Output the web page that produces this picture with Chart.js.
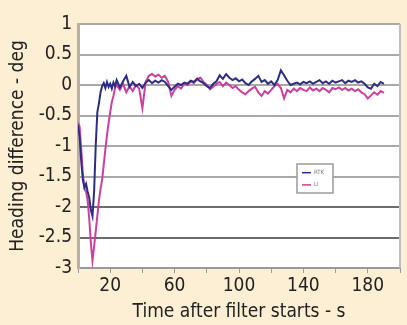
<!DOCTYPE html>
<html>
<head>
<meta charset="utf-8">
<script src="https://cdn.jsdelivr.net/npm/chart.js@4.4.1/dist/chart.umd.min.js"></script>
<style>
  html, body { margin: 0; padding: 0; background: #fdefd3; }
  #wrap { width: 407px; height: 325px; position: relative; }
</style>
</head>
<body>
<div id="wrap"><canvas id="c" width="407" height="325"></canvas></div>
<script>
// Time after filter starts (s)
const times = [0,1,2,3,4,5,6,7,8,9,10,11,12,13,14,15,16,17,18,19,20,21,22,23,24,
  26,28,30,32,34,36,38,40,42,44,46,48,50,52,54,56,58,60,62,64,66,68,70,72,74,76,78,80,
  82,84,86,88,90,92,94,96,98,100,102,104,106,108,110,112,114,116,118,120,122,124,126,128,130,
  132,134,136,138,140,142,144,146,148,150,152,154,156,158,160,162,164,166,168,170,172,174,176,178,180,
  182,184,186,188,190];

// Heading difference (deg), RTK series (dark blue)
const rtk = [-0.65,-0.85,-1.25,-1.55,-1.68,-1.62,-1.75,-1.85,-2.05,-2.15,-1.75,-1.0,-0.45,-0.3,-0.12,-0.02,0.03,-0.05,0.05,-0.03,0.02,-0.06,0.04,-0.02,0.08,
  -0.04,0.06,0.15,-0.03,0.05,-0.02,0.02,-0.05,0.04,0.08,0.03,0.07,0.04,0.08,0.05,-0.02,-0.08,-0.03,0.02,0.0,0.04,0.02,0.07,0.05,0.1,0.06,0.03,-0.02,
  -0.05,0.02,0.06,0.16,0.1,0.18,0.12,0.08,0.11,0.06,0.09,0.03,0.0,0.06,0.1,0.15,0.05,0.08,0.02,0.06,0.0,0.08,0.24,0.16,0.07,
  0.0,0.02,0.04,0.01,0.05,0.03,0.06,0.02,0.05,0.08,0.03,0.06,0.02,0.07,0.04,0.06,0.08,0.03,0.07,0.05,0.08,0.04,0.06,0.02,-0.04,
  -0.06,0.02,-0.02,0.05,0.02];

// Heading difference (deg), LI series (magenta)
const li = [-0.62,-0.68,-1.05,-1.45,-1.7,-1.75,-1.9,-2.2,-2.6,-2.88,-2.65,-2.4,-2.15,-1.9,-1.7,-1.55,-1.3,-1.05,-0.82,-0.62,-0.45,-0.28,-0.18,-0.05,0.0,
  -0.08,0.02,-0.12,-0.02,-0.1,0.0,-0.06,-0.38,0.05,0.15,0.18,0.14,0.17,0.12,0.15,0.05,-0.18,-0.08,-0.02,-0.06,0.02,0.0,0.06,0.03,0.1,0.12,0.05,0.0,
  -0.07,-0.03,0.02,0.05,-0.02,0.04,0.0,-0.05,-0.02,-0.08,-0.12,-0.15,-0.1,-0.06,-0.03,-0.12,-0.18,-0.1,-0.14,-0.08,-0.02,0.02,-0.05,-0.22,-0.08,
  -0.12,-0.06,-0.1,-0.05,-0.08,-0.1,-0.04,-0.09,-0.06,-0.1,-0.05,-0.08,-0.12,-0.05,-0.07,-0.04,-0.08,-0.05,-0.09,-0.06,-0.1,-0.07,-0.12,-0.15,-0.22,
  -0.17,-0.12,-0.16,-0.1,-0.13];

const seriesNames = ['RTK', 'LI'];
const xLabelTicks = [20, 60, 100, 140, 180];

const FONT = "'DejaVu Sans Condensed', 'Liberation Sans', sans-serif";

const toXY = arr => arr.map((v, i) => ({ x: times[i], y: v }));

const insideLegend = {
  id: 'insideLegend',
  afterDatasetsDraw(chart) {
    const ctx = chart.ctx;
    const xs = chart.scales.x, ys = chart.scales.y;
    const x0 = Math.round(xs.getPixelForValue(136)), x1 = Math.round(xs.getPixelForValue(158.4));
    const y0 = Math.round(ys.getPixelForValue(-1.3)), y1 = Math.round(ys.getPixelForValue(-1.77));
    ctx.save();
    ctx.fillStyle = '#ffffff';
    ctx.fillRect(x0, y0, x1 - x0, y1 - y0);
    ctx.strokeStyle = '#9a9a9a';
    ctx.lineWidth = 1.5;
    ctx.strokeRect(x0, y0, x1 - x0, y1 - y0);
    chart.data.datasets.forEach((ds, i) => {
      const yy = y0 + (y1 - y0) * (i === 0 ? 0.3 : 0.72);
      ctx.strokeStyle = ds.borderColor;
      ctx.lineWidth = 1.5;
      ctx.beginPath();
      ctx.moveTo(x0 + 5, yy);
      ctx.lineTo(x0 + 14, yy);
      ctx.stroke();
      ctx.fillStyle = '#777';
      ctx.font = "6px " + FONT;
      ctx.textBaseline = 'middle';
      ctx.fillText(ds.label, x0 + 17, yy);
    });
    ctx.restore();
  }
};

const bgPlugin = {
  id: 'bgPlugin',
  beforeDraw(chart) {
    const { ctx, chartArea: a } = chart;
    ctx.save();
    ctx.fillStyle = '#fdefd3';
    ctx.fillRect(0, 0, chart.width, chart.height);
    ctx.fillStyle = '#ffffff';
    ctx.fillRect(a.left, a.top, a.right - a.left, a.bottom - a.top);
    ctx.restore();
  },
  afterDraw(chart) {
    const { ctx, chartArea: a } = chart;
    ctx.save();
    ctx.strokeStyle = '#bdbdbd';
    ctx.lineWidth = 2;
    ctx.beginPath();
    ctx.moveTo(a.right, a.top);
    ctx.lineTo(a.right, a.bottom);
    ctx.stroke();
    ctx.restore();
  }
};

new Chart(document.getElementById('c'), {
  type: 'line',
  data: {
    datasets: [
      { label: seriesNames[0], data: toXY(rtk), borderColor: '#2d2d86', borderWidth: 2, pointRadius: 0, tension: 0 },
      { label: seriesNames[1], data: toXY(li), borderColor: '#cc3f9f', borderWidth: 2, pointRadius: 0, tension: 0 }
    ]
  },
  options: {
    responsive: false,
    animation: false,
    devicePixelRatio: 1,
    layout: { padding: { left: 0, right: 7, top: 24, bottom: 0 } },
    plugins: { legend: { display: false }, tooltip: { enabled: false } },
    scales: {
      x: {
        type: 'linear', min: 0, max: 200,
        afterFit(s) { s.height = 57; },
        border: { color: '#9a9a9a', width: 2 },
        grid: { drawOnChartArea: false, drawTicks: true, tickLength: 5, color: '#9a9a9a' },
        ticks: {
          stepSize: 20, autoSkip: false, maxRotation: 0, padding: 2,
          color: '#222', font: { family: FONT, size: 19 },
          callback: v => xLabelTicks.includes(v) ? String(v) : ''
        },
        title: { display: true, text: 'Time after filter starts - s', color: '#222',
                 font: { family: FONT, size: 19 }, padding: { top: 0, bottom: 2 } }
      },
      y: {
        min: -3, max: 1,
        afterFit(s) { s.width = 78; },
        border: { color: '#b8b0a0', width: 3 },
        grid: {
          drawTicks: false, lineWidth: 2,
          color: c => (c.tick.value <= -2 ? '#6c6c6c' : '#a8a8a8')
        },
        ticks: { stepSize: 0.5, padding: 6, color: '#222', font: { family: FONT, size: 19 },
                 callback: v => String(v) },
        title: { display: true, text: 'Heading difference - deg', color: '#222',
                 font: { family: FONT, size: 19 }, padding: { top: 7, bottom: 0 } }
      }
    }
  },
  plugins: [bgPlugin, insideLegend]
});
</script>
</body>
</html>
